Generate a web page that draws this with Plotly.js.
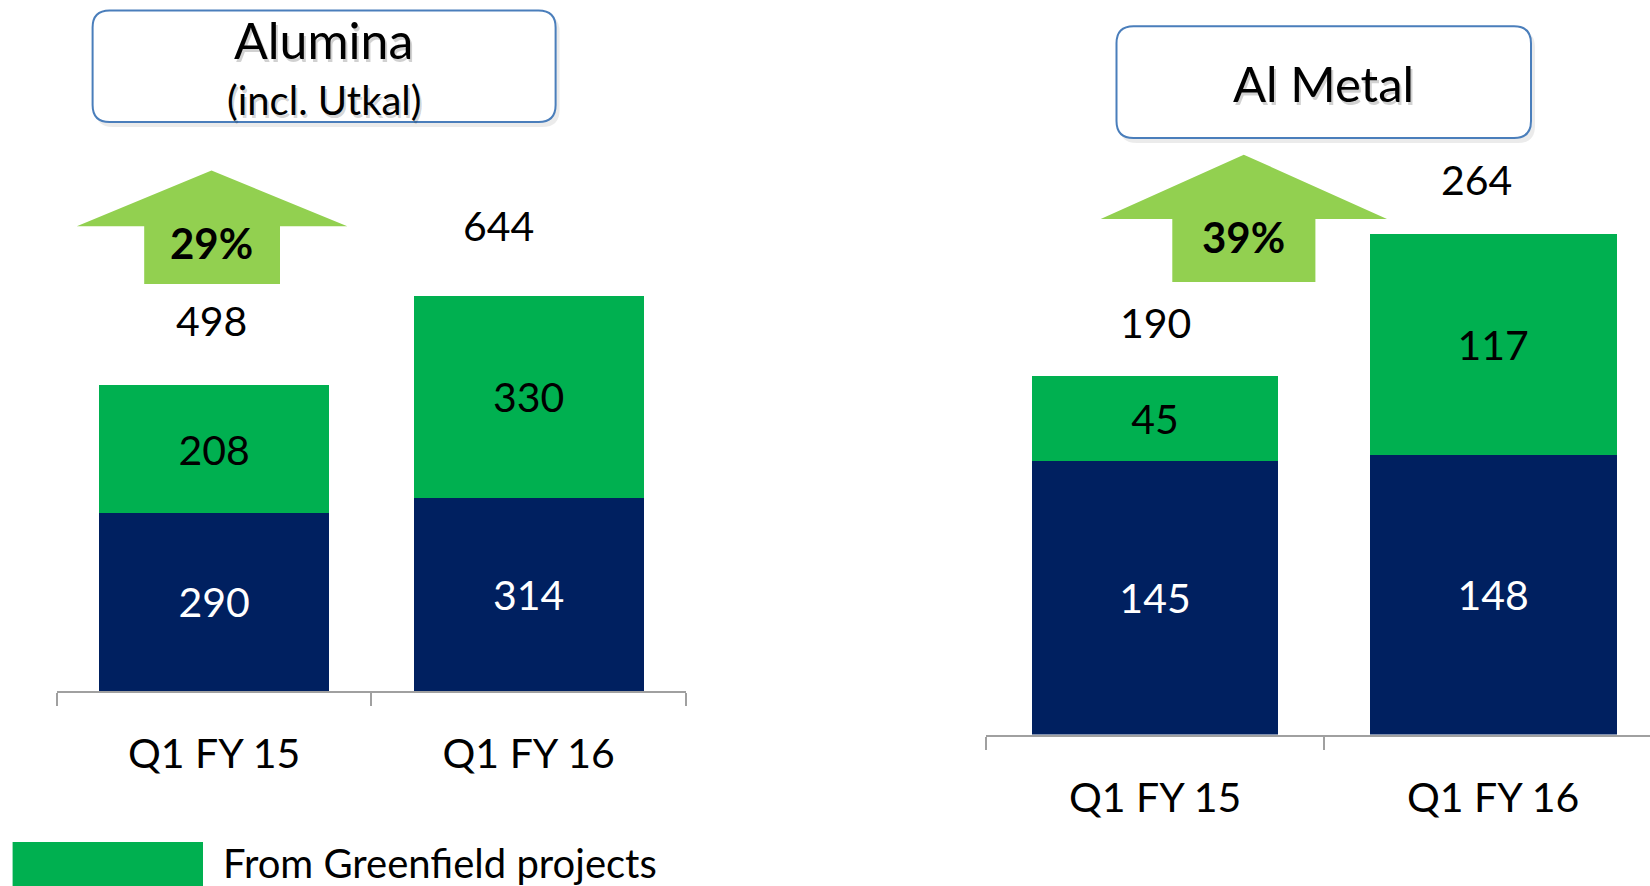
<!DOCTYPE html>
<html>
<head>
<meta charset="utf-8">
<script src="https://cdn.plot.ly/plotly-3.0.1.min.js"></script>
<style>html,body{margin:0;padding:0;background:#fff;}#chart{width:1650px;height:886px;}</style>
</head>
<body>
<div id="chart"></div>
<script>
// ---- data ----
const categories = ["Q1 FY 15", "Q1 FY 16"];
const aluminaBase = [290, 314];        // existing (navy)
const aluminaGreenfield = [208, 330];  // From Greenfield projects (green)
const aluminaTotal = [498, 644];       // total labels as printed
const metalBase = [145, 148];
const metalGreenfield = [45, 117];
const metalTotal = [190, 264];         // total labels as printed
const panelTitles = ["Alumina", "(incl. Utkal)", "Al Metal"];
const legendLabel = "From Greenfield projects";

// ---- helpers ----
const W = 1650, H = 886;
const px = x => x / W;
const py = y => 1 - y / H;
const FONT = "Lato, 'Open Sans', sans-serif";
const NAVY = "#002060", GREEN = "#00B050", LIGHT = "#92D050";

const growth = t => Math.round((t[1] / t[0] - 1) * 100) + "%";

function roundRect(x0, y0, x1, y1, r) {
  const P = (x, y) => px(x) + "," + py(y);
  return "M" + P(x0 + r, y0) + " L" + P(x1 - r, y0) + " Q" + P(x1, y0) + " " + P(x1, y0 + r) +
    " L" + P(x1, y1 - r) + " Q" + P(x1, y1) + " " + P(x1 - r, y1) +
    " L" + P(x0 + r, y1) + " Q" + P(x0, y1) + " " + P(x0, y1 - r) +
    " L" + P(x0, y0 + r) + " Q" + P(x0, y0) + " " + P(x0 + r, y0) + " Z";
}
function upArrow(tipX, tipY, headBase, headL, headR, shaftL, shaftR, bottom) {
  const P = (x, y) => px(x) + "," + py(y);
  return "M" + P(tipX, tipY) + " L" + P(headR, headBase) + " L" + P(shaftR, headBase) +
    " L" + P(shaftR, bottom) + " L" + P(shaftL, bottom) + " L" + P(shaftL, headBase) +
    " L" + P(headL, headBase) + " Z";
}

function barTrace(y, color, textColor, xa, ya) {
  return {
    type: "bar", x: categories, y: y, xaxis: xa, yaxis: ya,
    marker: {color: color, line: {width: 0}},
    text: y.map(String), textposition: "inside", insidetextanchor: "middle",
    textangle: 0, constraintext: "none",
    textfont: {family: FONT, size: 41, color: textColor},
    hoverinfo: "skip", showlegend: false
  };
}

const data = [
  barTrace(aluminaBase, NAVY, "#ffffff", "x", "y"),
  barTrace(aluminaGreenfield, GREEN, "#000000", "x", "y"),
  barTrace(metalBase, NAVY, "#ffffff", "x2", "y2"),
  barTrace(metalGreenfield, GREEN, "#000000", "x2", "y2")
];

const xCommon = {
  type: "category", showline: true, linecolor: "#a0a0a0", linewidth: 2,
  ticks: "outside", tickson: "boundaries", ticklen: 13, tickwidth: 2, tickcolor: "#a0a0a0",
  showgrid: false, zeroline: false, fixedrange: true,
  tickfont: {family: FONT, size: 41, color: "#000"}, ticklabelstandoff: 26
};

const annotations = [];
// label nudges (pixels) matching the original slide placement
const leftNudge = {dx: [-3, -30], dy: [65, 70]};
const rightNudge = {dx: [0, -17], dy: [53, 57]};
function totalLabels(totals, xa, ya, nudge) {
  totals.forEach((t, i) => annotations.push({
    xref: xa, yref: ya, x: categories[i], y: t, text: String(t), showarrow: false,
    yanchor: "middle", xshift: nudge.dx[i], yshift: nudge.dy[i],
    font: {family: FONT, size: 41, color: "#000"}
  }));
}
totalLabels(aluminaTotal, "x", "y", leftNudge);
totalLabels(metalTotal, "x2", "y2", rightNudge);

function paperText(text, x, y, size, bold, shadow) {
  if (shadow) annotations.push({xref: "paper", yref: "paper", x: px(x) + 2 / W, y: py(y) - 3 / H,
    text: text, showarrow: false, xanchor: "center", yanchor: "middle",
    font: {family: FONT, size: size, color: "rgba(0,0,0,0.18)"}});
  annotations.push({xref: "paper", yref: "paper", x: px(x), y: py(y), text: bold ? "<b>" + text + "</b>" : text,
    showarrow: false, xanchor: "center", yanchor: "middle",
    font: {family: FONT, size: size, color: "#000"}});
}
paperText(panelTitles[0], 323.5, 40, 50, false, true);
paperText(panelTitles[1], 323.5, 100, 40, false, true);
paperText(panelTitles[2], 1323.8, 83, 49, false, true);
paperText(growth(aluminaTotal), 211.5, 243, 42, true, false);
paperText(growth(metalTotal), 1243.8, 237, 42, true, false);
annotations.push({xref: "paper", yref: "paper", x: px(221), y: py(863), text: legendLabel, showarrow: false,
  xanchor: "left", yanchor: "middle", font: {family: FONT, size: 40, color: "#000"}});

const shapes = [
  // box shadows
  {type: "path", xref: "paper", yref: "paper", path: roundRect(95.6, 14.5, 559.6, 127, 17),
    fillcolor: "rgba(0,0,0,0.08)", line: {width: 0}, layer: "below"},
  {type: "path", xref: "paper", yref: "paper", path: roundRect(1119.5, 30.3, 1535, 143, 17),
    fillcolor: "rgba(0,0,0,0.08)", line: {width: 0}, layer: "below"},
  // title boxes
  {type: "path", xref: "paper", yref: "paper", path: roundRect(92.6, 10.5, 555.6, 122, 17),
    fillcolor: "#ffffff", line: {color: "#4a7ebb", width: 2}, layer: "below"},
  {type: "path", xref: "paper", yref: "paper", path: roundRect(1116.5, 26.3, 1531, 138, 17),
    fillcolor: "#ffffff", line: {color: "#4a7ebb", width: 2}, layer: "below"},
  // growth arrows
  {type: "path", xref: "paper", yref: "paper",
    path: upArrow(211.5, 170.5, 226.2, 76.8, 347.3, 144.2, 280, 284),
    fillcolor: LIGHT, line: {width: 0}, layer: "below"},
  {type: "path", xref: "paper", yref: "paper",
    path: upArrow(1243.8, 154.7, 218.9, 1100.7, 1387, 1172.3, 1315.4, 282),
    fillcolor: LIGHT, line: {width: 0}, layer: "below"},
  // legend swatch
  {type: "rect", xref: "paper", yref: "paper", x0: px(12.6), x1: px(203), y0: py(886), y1: py(842),
    fillcolor: GREEN, line: {width: 0}}
];

const layout = {
  width: W, height: H, margin: {l: 0, r: 0, t: 0, b: 0},
  paper_bgcolor: "#fff", plot_bgcolor: "rgba(0,0,0,0)",
  barmode: "stack", bargap: 0.27, showlegend: false,
  xaxis: Object.assign({}, xCommon, {domain: [px(56.8), px(686)], anchor: "y", range: [-0.5, 1.5]}),
  yaxis: {domain: [py(691), py(150)], range: [0, 881], visible: false, fixedrange: true},
  xaxis2: Object.assign({}, xCommon, {domain: [px(986), 1], anchor: "y2", range: [-0.5, 1.464]}),
  yaxis2: {domain: [py(734.5), py(150)], range: [0, 309.6], visible: false, fixedrange: true, anchor: "x2"},
  annotations: annotations, shapes: shapes,
  font: {family: FONT}
};

Plotly.newPlot("chart", data, layout, {displayModeBar: false, staticPlot: true});
</script>
</body>
</html>
